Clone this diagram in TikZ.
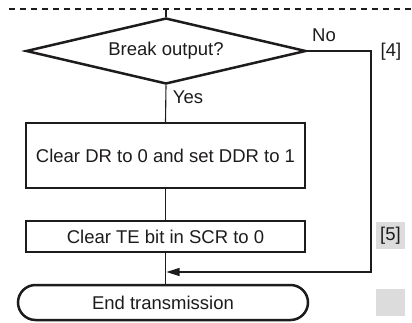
\documentclass[tikz,border=0pt]{standalone}
\usepackage{fontspec}
\setmainfont{Liberation Sans}
\usetikzlibrary{shapes.geometric,shapes.misc,arrows.meta}
\definecolor{ink}{RGB}{30,27,28}
\definecolor{tagbg}{RGB}{220,220,220}
\begin{document}
\begin{tikzpicture}[x=1pt,y=-1pt,
  every node/.style={font=\fontsize{18.5}{22}\selectfont, text=ink},
  shapebox/.style={draw=ink, line width=2.5pt, inner sep=0pt},
  conn/.style={draw=ink, line width=1.1pt},
  tag/.style={fill=tagbg, minimum width=29pt, minimum height=27pt, inner sep=0pt},
  lbl/.style={inner sep=0pt}]
\useasboundingbox (0,0) rectangle (412,322);
\coordinate (dl) at (9,9);
\coordinate (dr) at (412,9);
\draw[conn, dash pattern=on 6pt off 5pt] (dl) -- (dr);
\coordinate (top) at (166,9);
\node[shapebox, diamond, shape aspect=4.24, minimum width=280pt, minimum height=66pt] (dec) at (166,51) {Break output?};
\node[shapebox, rectangle, minimum width=279pt, minimum height=65pt] (b1) at (165.5,155.5) {Clear DR to 0 and set DDR to 1};
\node[shapebox, rectangle, minimum width=279pt, minimum height=31pt] (b2) at (165.5,236.5) {Clear TE bit in SCR to 0};
\node[shapebox, rounded rectangle, minimum width=290pt, minimum height=35pt] (end) at (163,302.5) {End transmission};
\draw[conn] (top) -- (dec.north);
\draw[conn] (dec.south) -- (b1.north);
\draw[conn] (b1.south) -- (b2.north);
\draw[conn] (b2.south) -- (b2.south |- end.north);
\coordinate (turn) at (371,272);
\coordinate (join) at (166.5,272);
\draw[conn, -{Triangle[length=13pt,width=8pt]}] (dec.east) -| (turn) -- (join);
\node[lbl] (no) at (324,35) {No};
\node[lbl] (yes) at (188,97) {Yes};
\node[lbl] (t4) at (391,52) {[4]};
\node[tag] (t5) at (390.5,235.5) {[5]};
\node[tag] (t6) at (390.5,302.5) {};
\end{tikzpicture}
\end{document}
